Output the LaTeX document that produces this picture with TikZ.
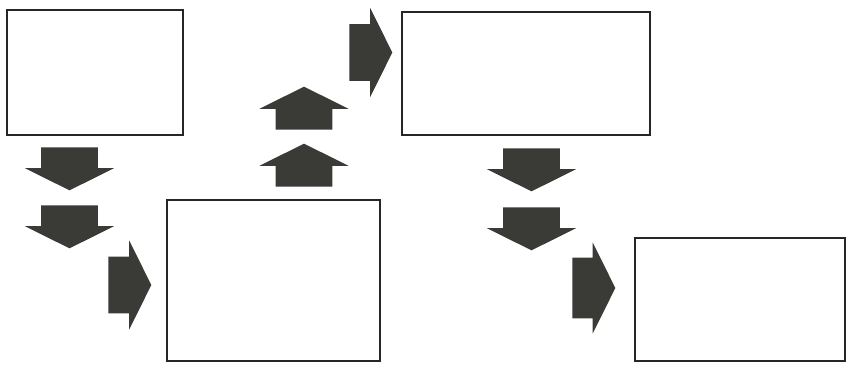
\documentclass[tikz,border=0pt]{standalone}
\usetikzlibrary{shapes.arrows}
\definecolor{arrg}{HTML}{3A3A36}
\tikzset{box/.style={draw=black!85, line width=0.4mm, fill=white, inner sep=0pt},
  blkarr/.style={single arrow, fill=arrg, draw=none, inner xsep=0pt, inner ysep=5.6mm, minimum height=8.6mm,
    single arrow head extend=3.2mm, single arrow tip angle=127, anchor=tail}}

\begin{document}
\begin{tikzpicture}[x=0.2mm,y=-0.2mm]
\useasboundingbox[fill=white] (0,0) rectangle (848,364);
% ---- boxes ----
\node[box, minimum width=35.2mm, minimum height=25mm] (b1) at (95,72.5) {};
\node[box, minimum width=42.6mm, minimum height=32.2mm] (b2) at (273.5,280.5) {};
\node[box, minimum width=49.6mm, minimum height=24.6mm] (b3) at (526,73.5) {};
\node[box, minimum width=42mm, minimum height=24.6mm] (b4) at (740,299.5) {};
% ---- block arrows (placed by their tails) ----
\foreach \i/\y in {1/147,2/205} \node[blkarr, rotate=-90] (da\i) at (69.5,\y) {};
\node[blkarr] (ra) at (108,285) {};
\foreach \i/\y in {1/130,2/187} \node[blkarr, rotate=90] (ub\i) at (304,\y) {};
\node[blkarr] (rb) at (349,52.5) {};
\foreach \i/\y in {1/148,2/207} \node[blkarr, rotate=-90] (dc\i) at (531.5,\y) {};
\node[blkarr, inner ysep=6mm, single arrow head extend=3mm] (rc) at (572,288) {};
\end{tikzpicture}
\end{document}
